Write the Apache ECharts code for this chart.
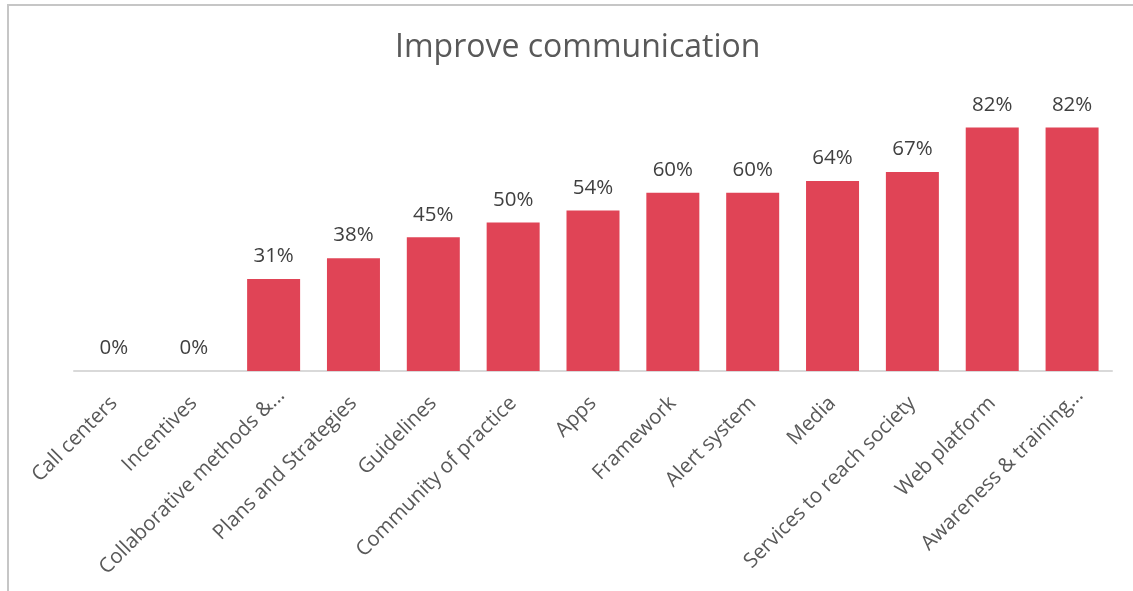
<!DOCTYPE html>
<html>
<head>
<meta charset="utf-8">
<script src="https://cdn.jsdelivr.net/npm/echarts@6/dist/echarts.min.js"></script>
<style>
  html, body { margin: 0; padding: 0; background: #fff; }
  #frame { position: absolute; left: 7px; top: 4px; width: 1140px; height: 600px; border: 2px solid #c6c6c6; box-sizing: border-box; }
  #chart { position: absolute; left: 0; top: 0; width: 1133px; height: 591px; }
</style>
</head>
<body>
<div id="frame"></div>
<div id="chart"></div>
<script>
const categories = [
  'Call centers', 'Incentives', 'Collaborative methods &...', 'Plans and Strategies',
  'Guidelines', 'Community of practice', 'Apps', 'Framework', 'Alert system',
  'Media', 'Services to reach society', 'Web platform', 'Awareness & training...'
];
const shares = [0, 0, 31, 38, 45, 50, 54, 60, 60, 64, 67, 82, 82];

// Shortened names end in "..." and sit a little further along the slant
const categoryItems = categories.map(name => name.endsWith('...')
  ? { value: name, textStyle: { padding: [0, -11, 0, 0] } }
  : name);

const chart = echarts.init(document.getElementById('chart'), null, { renderer: 'canvas' });
chart.setOption({
  animation: false,
  backgroundColor: 'transparent',
  title: {
    text: 'Improve communication',
    left: 390,
    top: 27,
    textStyle: { fontFamily: 'Open Sans', fontSize: 32, fontWeight: 'normal', color: '#595959' }
  },
  grid: { left: 74, right: 21, top: 74, bottom: 220, containLabel: false },
  xAxis: {
    type: 'category',
    data: categoryItems,
    axisLine: { lineStyle: { color: '#d9d9d9', width: 2 } },
    axisTick: { show: false },
    axisLabel: {
      rotate: 45,
      margin: 29,
      interval: 0,
      fontFamily: 'Open Sans',
      fontSize: 20.5,
      color: '#595959'
    }
  },
  yAxis: {
    type: 'value',
    min: 0,
    max: 100,
    show: false,
    splitLine: { show: false }
  },
  series: [{
    type: 'bar',
    data: shares,
    barWidth: 53,
    itemStyle: { color: '#e04456' },
    label: {
      show: true,
      position: 'top',
      distance: 12,
      formatter: p => p.value + '%',
      fontFamily: 'Open Sans',
      fontSize: 20.5,
      color: '#404040'
    }
  }]
});
</script>
</body>
</html>
